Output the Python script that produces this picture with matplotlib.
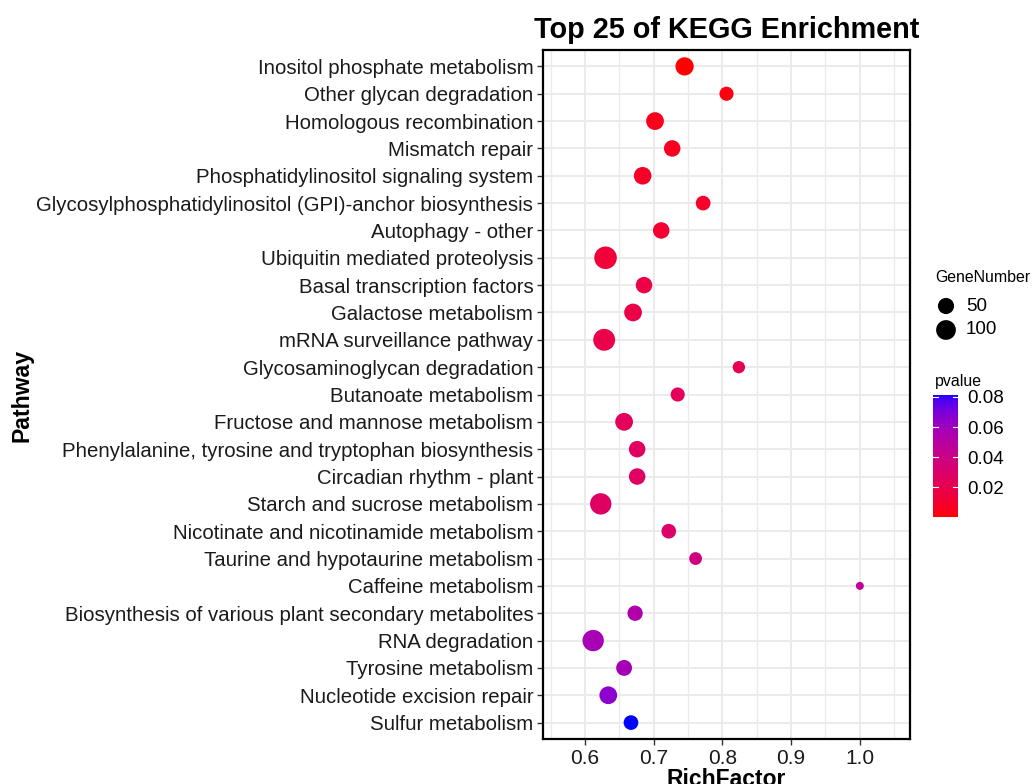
import numpy as np
import matplotlib
matplotlib.use('Agg')
import matplotlib.pyplot as plt
from matplotlib.colors import ListedColormap, Normalize
from matplotlib.ticker import MultipleLocator

plt.rcParams['font.family'] = ['Liberation Sans', 'DejaVu Sans']

pathways = ['Inositol phosphate metabolism', 'Other glycan degradation',
            'Homologous recombination', 'Mismatch repair',
            'Phosphatidylinositol signaling system',
            'Glycosylphosphatidylinositol (GPI)-anchor biosynthesis',
            'Autophagy - other', 'Ubiquitin mediated proteolysis',
            'Basal transcription factors', 'Galactose metabolism',
            'mRNA surveillance pathway', 'Glycosaminoglycan degradation',
            'Butanoate metabolism', 'Fructose and mannose metabolism',
            'Phenylalanine, tyrosine and tryptophan biosynthesis',
            'Circadian rhythm - plant', 'Starch and sucrose metabolism',
            'Nicotinate and nicotinamide metabolism',
            'Taurine and hypotaurine metabolism', 'Caffeine metabolism',
            'Biosynthesis of various plant secondary metabolites',
            'RNA degradation', 'Tyrosine metabolism',
            'Nucleotide excision repair', 'Sulfur metabolism']
rich_factor = [0.745, 0.806, 0.702, 0.727, 0.684, 0.772, 0.711, 0.630,
               0.686, 0.670, 0.628, 0.824, 0.735, 0.657, 0.676, 0.676,
               0.623, 0.722, 0.761, 1.000, 0.673, 0.612, 0.657, 0.634, 0.667]
gene_number = [77, 30, 70, 54, 68, 35, 54, 151, 54, 70, 138, 17, 30, 70,
               54, 54, 128, 35, 20, 4, 41, 128, 47, 70, 35]
pvalue = [0.0003, 0.003, 0.005, 0.006, 0.008, 0.009, 0.011, 0.013, 0.017,
          0.018, 0.019, 0.022, 0.024, 0.025, 0.026, 0.027, 0.028, 0.030,
          0.038, 0.046, 0.053, 0.056, 0.057, 0.065, 0.0813]
legend_sizes = [50, 100]
cbar_ticks = [0.02, 0.04, 0.06, 0.08]


# red -> blue gradient interpolated in Lab space (like ggplot)
def srgb_to_lab(c):
    c = np.asarray(c, dtype=float)
    lin = np.where(c <= 0.04045, c / 12.92, ((c + 0.055) / 1.055) ** 2.4)
    M = np.array([[0.4124, 0.3576, 0.1805],
                  [0.2126, 0.7152, 0.0722],
                  [0.0193, 0.1192, 0.9505]])
    xyz = M @ lin / np.array([0.95047, 1.0, 1.08883])
    f = np.where(xyz > 0.008856, np.cbrt(xyz), 7.787 * xyz + 16 / 116)
    return np.array([116 * f[1] - 16, 500 * (f[0] - f[1]), 200 * (f[1] - f[2])])


def lab_to_srgb(lab):
    L, a, b = lab
    fy = (L + 16) / 116
    fx = fy + a / 500
    fz = fy - b / 200
    f = np.array([fx, fy, fz])
    xyz = np.where(f ** 3 > 0.008856, f ** 3, (f - 16 / 116) / 7.787)
    xyz = xyz * np.array([0.95047, 1.0, 1.08883])
    Minv = np.array([[3.2406, -1.5372, -0.4986],
                     [-0.9689, 1.8758, 0.0415],
                     [0.0557, -0.2040, 1.0570]])
    lin = Minv @ xyz
    c = np.where(lin <= 0.0031308, 12.92 * lin, 1.055 * np.clip(lin, 0, None) ** (1 / 2.4) - 0.055)
    return np.clip(c, 0, 1)


lab_lo = srgb_to_lab([1, 0, 0])
lab_hi = srgb_to_lab([0, 0, 1])
cols = [lab_to_srgb(lab_lo + t * (lab_hi - lab_lo)) for t in np.linspace(0, 1, 256)]
cmap = ListedColormap(cols)
pmin, pmax = min(pvalue), max(pvalue)
norm = Normalize(vmin=pmin, vmax=pmax)


def dot_size(v):
    d_px = 8 + 1.2 * np.sqrt(np.maximum(np.asarray(v, dtype=float) - min(gene_number), 0))
    return (d_px * 0.72) ** 2


fig = plt.figure(figsize=(10.34, 7.84), dpi=100)
ax = fig.add_axes([543 / 1034, 1 - 739 / 784, 367 / 1034, 689 / 784])

n = len(pathways)
ypos = np.arange(n)[::-1] + 1
ax.scatter(rich_factor, ypos, s=dot_size(gene_number), c=pvalue, cmap=cmap,
           norm=norm, linewidths=0, zorder=3)

ax.set_xlim(0.539, 1.073)
ax.set_ylim(0.4, n + 0.6)
ax.set_yticks(ypos)
ax.set_yticklabels(pathways, fontsize=14.7, color='#1A1A1A')
ax.xaxis.set_minor_locator(MultipleLocator(0.05))
ax.set_xticks([0.6, 0.7, 0.8, 0.9, 1.0])
ax.set_xticklabels(['0.6', '0.7', '0.8', '0.9', '1.0'], fontsize=15, color='#1A1A1A')
ax.tick_params(axis='both', which='major', length=4, width=1, color='#333333', pad=3)
ax.tick_params(axis='x', which='minor', length=0)
ax.grid(True, which='major', color='#EBEBEB', linewidth=1.4, zorder=0)
ax.grid(True, which='minor', axis='x', color='#EBEBEB', linewidth=1.0, zorder=0)
ax.set_axisbelow(True)
for sp in ax.spines.values():
    sp.set_linewidth(1.6)
    sp.set_color('black')

ax.set_title('Top 25 of KEGG Enrichment', fontsize=20.8, fontweight='bold', pad=9)
ax.set_xlabel('RichFactor', fontsize=16.5, fontweight='bold', labelpad=0)
fig.text(22 / 1034, 1 - 395 / 784, 'Pathway', rotation=90, fontsize=16.6,
         fontweight='bold', ha='center', va='center')

# GeneNumber legend
fig.text(935 / 1034, 1 - 278 / 784, 'GeneNumber', fontsize=11.4, ha='left', va='center')
lax = fig.add_axes([936 / 1034, 1 - 342 / 784, 20 / 1034, 48 / 784])
lax.set_xlim(0, 1)
lax.set_ylim(342, 294)
lax.scatter([0.5, 0.5], [306, 330], s=dot_size(legend_sizes), c='black', linewidths=0)
lax.axis('off')
fig.text(966 / 1034, 1 - 306 / 784, '50', fontsize=13.5, ha='left', va='center')
fig.text(966 / 1034, 1 - 330 / 784, '100', fontsize=13.5, ha='left', va='center')

# pvalue colorbar
fig.text(935 / 1034, 1 - 381 / 784, 'pvalue', fontsize=11.4, ha='left', va='center')
cax = fig.add_axes([933 / 1034, 1 - 517 / 784, 25 / 1034, 122 / 784])
grad = np.linspace(pmin, pmax, 256).reshape(-1, 1)
cax.imshow(grad, aspect='auto', cmap=cmap, norm=norm, origin='lower',
           extent=[0, 1, pmin, pmax])
cax.set_xlim(0, 1)
cax.set_ylim(pmin, pmax)
for t in cbar_ticks:
    cax.plot([0, 0.2], [t, t], color='white', lw=0.8)
    cax.plot([0.8, 1], [t, t], color='white', lw=0.8)
cax.set_xticks([])
cax.yaxis.tick_right()
cax.set_yticks(cbar_ticks)
cax.set_yticklabels(['0.02', '0.04', '0.06', '0.08'], fontsize=13.5)
cax.tick_params(axis='y', length=0, pad=7)
for sp in cax.spines.values():
    sp.set_visible(False)

fig.savefig('out.png', dpi=100)
